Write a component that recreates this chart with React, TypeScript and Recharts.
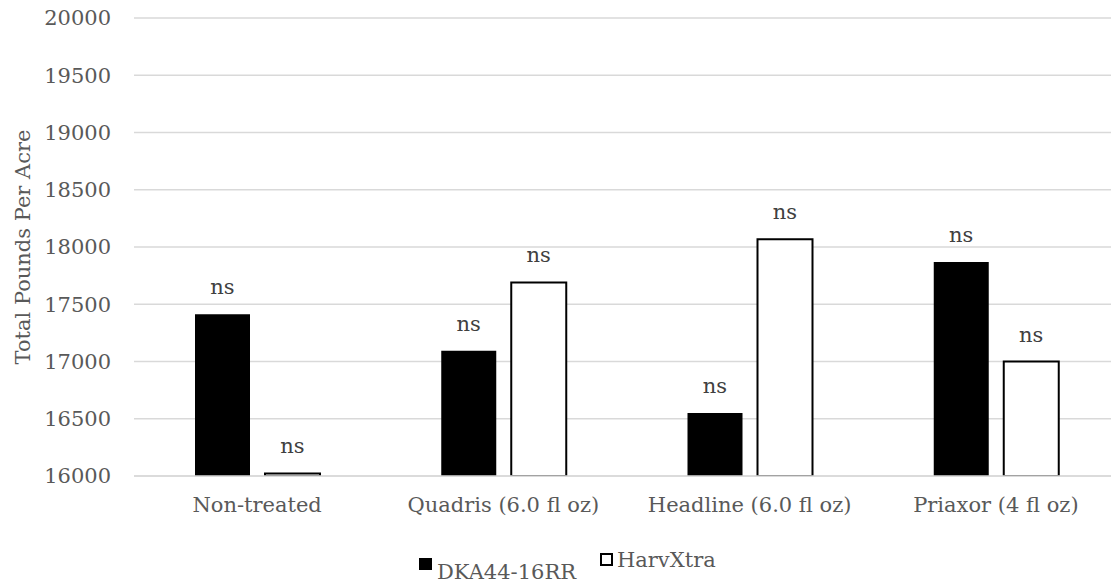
import { BarChart, Bar, XAxis, YAxis, CartesianGrid, Legend, LabelList } from "recharts";

const categories = ["Non-treated", "Quadris (6.0 fl oz)", "Headline (6.0 fl oz)", "Priaxor (4 fl oz)"];
const dka = [17413, 17093, 16550, 17870];
const harv = [16022, 17690, 18068, 17000];
const yTicks = [16000, 16500, 17000, 17500, 18000, 18500, 19000, 19500, 20000];
const seriesNames = ["DKA44-16RR", "HarvXtra"];

const data = categories.map((name, i) => ({ name, dka: dka[i], harv: harv[i] }));

const FONT = "'DejaVu Serif', serif";
const GREY = "#595959";
const FS = 21;

const LegendBox = () => (
  <div style={{ position: "relative", width: 1111, height: 36, fontFamily: FONT, fontSize: FS, lineHeight: "20px", color: GREY }}>
    <div style={{ position: "absolute", left: 419, top: 10, width: 13, height: 12, background: "#000" }} />
    <div style={{ position: "absolute", left: 437, top: 14, whiteSpace: "nowrap" }}>{seriesNames[0]}</div>
    <div style={{ position: "absolute", left: 600, top: 5, width: 9, height: 9, border: "2px solid #000", background: "#fff" }} />
    <div style={{ position: "absolute", left: 617, top: 2, whiteSpace: "nowrap" }}>{seriesNames[1]}</div>
  </div>
);

const YLabel = (props: any) => {
  const vb = props.viewBox || {};
  const cy = vb.y + vb.height / 2;
  return (
    <text x={23} y={cy} transform={`rotate(-90, 23, ${cy})`} textAnchor="middle" dominantBaseline="central"
      fill={GREY} fontFamily={FONT} fontSize={FS}>
      Total Pounds Per Acre
    </text>
  );
};

export default function App() {
  return (
    <div style={{ position: "absolute", left: 0, top: 0, width: 1111, height: 584, overflow: "hidden", background: "#fff" }}>
      <BarChart width={1120} height={584} data={data} margin={{ top: 18, right: 1, bottom: 0, left: 0 }}
        barSize={55} barGap={15}>
        <CartesianGrid vertical={false} stroke="#d9d9d9" strokeWidth={1.5} />
        <XAxis dataKey="name" height={72} tickSize={0} tickMargin={21} axisLine={{ stroke: "#d9d9d9", strokeWidth: 1.5 }}
          tickLine={false} interval={0} tick={{ fill: GREY, fontFamily: FONT, fontSize: FS }} />
        <YAxis width={134} domain={[16000, 20000]} ticks={yTicks} tickSize={0} tickMargin={23} axisLine={false}
          tickLine={false} allowDataOverflow tick={{ fill: GREY, fontFamily: FONT, fontSize: FS }} label={<YLabel />} />
        <Legend verticalAlign="bottom" content={<LegendBox />} wrapperStyle={{ left: 0, width: 1111, height: 36 }} />
        <Bar dataKey="dka" name={seriesNames[0]} fill="#000" isAnimationActive={false}>
          <LabelList position="top" offset={20} valueAccessor={() => "ns"}
            fill="#404040" fontFamily={FONT} fontSize={FS} />
        </Bar>
        <Bar dataKey="harv" name={seriesNames[1]} fill="#fff" stroke="#000" strokeWidth={2} isAnimationActive={false}>
          <LabelList position="top" offset={20} valueAccessor={() => "ns"}
            fill="#404040" fontFamily={FONT} fontSize={FS} />
        </Bar>
      </BarChart>
    </div>
  );
}
